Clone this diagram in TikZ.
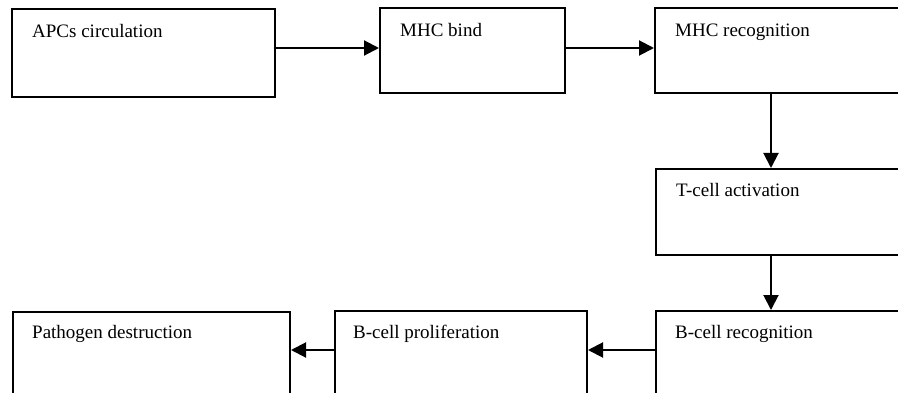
\documentclass[tikz,border=0pt]{standalone}
\usepackage{fontspec}
\setmainfont{Liberation Serif}
\usetikzlibrary{arrows.meta}

\begin{document}
\begin{tikzpicture}[
    x=1pt, y=-1pt,
    font=\fontsize{19}{22}\selectfont,
    box/.style={rectangle, draw=black, line width=2pt, inner sep=0pt,
                anchor=north west},
    txt/.style={anchor=base west, inner sep=0pt},
    arr/.style={-{Triangle[length=15pt, width=15pt]}, line width=2pt}
]
\clip (0,0) rectangle (898,393);
% top row
\node[box, minimum width=263pt, minimum height=88pt] (apc)  at (11,8)  {};
\node[box, minimum width=185pt, minimum height=85pt] (bind) at (379,7) {};
\node[box, minimum width=266pt, minimum height=85pt] (rec)  at (654,7) {};
% right column
\node[box, minimum width=266pt, minimum height=86pt] (tact) at (655,168) {};
% bottom row
\node[box, minimum width=266pt, minimum height=110pt] (brec) at (655,310) {};
\node[box, minimum width=252pt, minimum height=110pt] (bpro) at (334,310) {};
\node[box, minimum width=277pt, minimum height=110pt] (path) at (12,311)  {};
% labels
\node[txt] (apct)  at ([shift={(21pt,-30pt)}]apc.north west)  {APCs circulation};
\node[txt] (bindt) at ([shift={(21pt,-30pt)}]bind.north west) {MHC bind};
\node[txt] (rect)  at ([shift={(21pt,-30pt)}]rec.north west)  {MHC recognition};
\node[txt] (tactt) at ([shift={(21pt,-29pt)}]tact.north west) {T-cell activation};
\node[txt] (brect) at ([shift={(20pt,-28pt)}]brec.north west) {B-cell recognition};
\node[txt] (bprot) at ([shift={(19pt,-28pt)}]bpro.north west) {B-cell proliferation};
\node[txt] (patht) at ([shift={(20pt,-27pt)}]path.north west) {Pathogen destruction};
% arrows
\draw[arr] ([yshift=-40pt]apc.north east) -- ([yshift=-41pt]bind.north west);
\draw[arr] ([yshift=-41pt]bind.north east) -- ([yshift=-41pt]rec.north west);
\draw[arr] ([xshift=117pt]rec.south west) -- ([xshift=116pt]tact.north west);
\draw[arr] ([xshift=116pt]tact.south west) -- ([xshift=116pt]brec.north west);
\draw[arr] ([yshift=-40pt]brec.north west) -- ([yshift=-40pt]bpro.north east);
\draw[arr] ([yshift=-40pt]bpro.north west) -- ([yshift=-39pt]path.north east);
\end{tikzpicture}
\end{document}
